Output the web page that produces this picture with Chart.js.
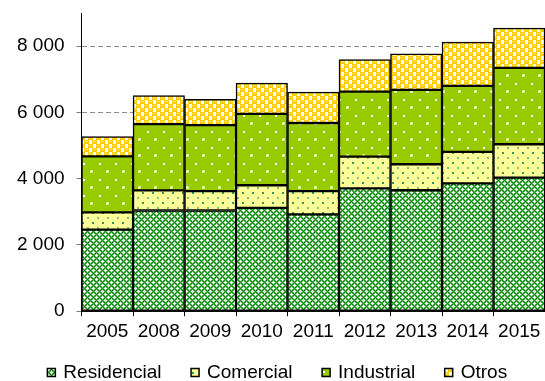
<!DOCTYPE html>
<html>
<head>
<meta charset="utf-8">
<script src="https://cdn.jsdelivr.net/npm/chart.js@4/dist/chart.umd.min.js"></script>
<style>
  html, body { margin: 0; padding: 0; background: #fff; }
  #wrap { width: 545px; height: 381px; }
</style>
</head>
<body>
<div id="wrap"><canvas id="myChart"></canvas></div>
<script>
const anni = ['2005', '2008', '2009', '2010', '2011', '2012', '2013', '2014', '2015'];
const residencial = [2460, 3040, 3040, 3120, 2920, 3705, 3650, 3860, 4030];
const comercial = [525, 605, 585, 680, 705, 960, 785, 950, 1010];
const industrial = [1690, 2000, 1990, 2155, 2055, 1960, 2245, 1990, 2305];
const otros = [595, 860, 780, 930, 930, 970, 1090, 1320, 1200];
const valoriTick = [0, 2000, 4000, 6000, 8000];

function creaPattern(w, h, disegna) {
    const c = document.createElement('canvas');
    c.width = w;
    c.height = h;
    const g = c.getContext('2d');
    disegna(g);
    return document.getElementById('myChart').getContext('2d').createPattern(c, 'repeat');
}

// verde a rete
const patResidencial = creaPattern(6, 6, function(g) {
    g.fillStyle = '#ffffff';
    g.fillRect(0, 0, 6, 6);
    for (let x = 0; x < 6; x++) {
        for (let y = 0; y < 6; y++) {
            if ((x + y) % 6 === 0 || (x - y + 6) % 6 === 0) {
                g.fillStyle = '#138a13';
                g.fillRect(x, y, 1, 1);
            } else if ((x + y) % 6 === 3 && (x - y + 6) % 6 === 3) {
                g.fillStyle = '#ffffff';
                g.fillRect(x, y, 1, 1);
            } else if ((x + y) % 2 === 1) {
                g.fillStyle = '#5cb85c';
                g.fillRect(x, y, 1, 1);
            }
        }
    }
});

// giallo chiaro con puntini verdi
const patComercial = creaPattern(10, 10, function(g) {
    g.fillStyle = '#ffff99';
    g.fillRect(0, 0, 10, 10);
    g.fillStyle = '#2f9a5a';
    g.fillRect(2, 2, 2, 2);
    g.fillStyle = '#7fbf7f';
    g.fillRect(7, 7, 2, 2);
});

// verde con puntini bianchi
const patIndustrial = creaPattern(16, 16, function(g) {
    g.fillStyle = '#99cc00';
    g.fillRect(0, 0, 16, 16);
    g.fillStyle = '#ffffff';
    g.fillRect(3, 3, 2, 2);
    g.fillStyle = '#d6ec99';
    g.fillRect(10, 10, 3, 3);
    g.fillStyle = '#ffffff';
    g.fillRect(11, 11, 1, 1);
});

// arancio a blocchi sfalsati
const patOtros = creaPattern(8, 8, function(g) {
    g.fillStyle = '#ffffff';
    g.fillRect(0, 0, 8, 8);
    g.fillStyle = '#ffcc00';
    g.fillRect(0, 0, 5, 4);
    g.fillRect(4, 4, 4, 4);
    g.fillRect(0, 4, 1, 4);
    g.fillStyle = '#ffe680';
    g.fillRect(1, 1, 3, 1);
    g.fillRect(5, 5, 3, 1);
});

function formatta(v) {
    return String(v).replace(/\B(?=(\d{3})+(?!\d))/g, ' ');
}

// legenda piu bassa e compatta
const posizioneLegenda = {
    id: 'posizioneLegenda',
    beforeLayout(chart) {
        const leg = chart.legend;
        if (leg && !leg._modificata) {
            const fitOrig = leg.fit;
            leg.fit = function() {
                fitOrig.call(this);
                this.height = 32;
            };
            leg._modificata = true;
        }
    },
    afterLayout(chart) {
        chart.legend.top = 332;
        chart.legend.left += 3;
        chart.legend.right += 3;
    }
};

const ctx = document.getElementById('myChart');

new Chart(ctx, {
    type: 'bar',
    data: {
        labels: anni,
        datasets: [
            { label: 'Residencial', data: residencial, backgroundColor: patResidencial },
            { label: 'Comercial', data: comercial, backgroundColor: patComercial },
            { label: 'Industrial', data: industrial, backgroundColor: patIndustrial },
            { label: 'Otros', data: otros, backgroundColor: patOtros }
        ]
    },
    plugins: [posizioneLegenda],
    options: {
        responsive: true,
        maintainAspectRatio: false,
        animation: false,
        layout: { padding: { left: 5, top: 13, right: 0, bottom: 2 } },
        datasets: {
            bar: {
                borderColor: '#000000',
                borderWidth: 1.5,
                borderSkipped: false,
                barPercentage: 1,
                categoryPercentage: 1
            }
        },
        plugins: {
            tooltip: { enabled: false },
            legend: {
                position: 'bottom',
                labels: {
                    color: '#000',
                    usePointStyle: true,
                    pointStyle: 'rect',
                    boxWidth: 5,
                    boxHeight: 8,
                    padding: 31,
                    font: { family: 'Liberation Sans, Arial', size: 19 }
                }
            }
        },
        scales: {
            x: {
                stacked: true,
                grid: {
                    display: true,
                    drawOnChartArea: false,
                    drawTicks: true,
                    tickLength: 5,
                    color: '#000'
                },
                border: { display: true, color: '#000', width: 1 },
                ticks: {
                    color: '#000',
                    padding: 4,
                    maxRotation: 0,
                    font: { family: 'Liberation Sans, Arial', size: 19 }
                }
            },
            y: {
                stacked: true,
                min: 0,
                max: 9000,
                afterBuildTicks: function(scale) {
                    scale.ticks = valoriTick.map(v => ({ value: v }));
                },
                afterFit: function(scale) {
                    scale.paddingTop = 0;
                },
                grid: {
                    color: function(c) {
                        return c.tick && c.tick.value === 0 ? 'rgba(0,0,0,0)' : '#8c8c8c';
                    },
                    tickColor: '#777',
                    tickLength: 5
                },
                border: { display: true, color: '#000', width: 1, dash: [5, 3] },
                ticks: {
                    color: '#000',
                    padding: 12,
                    stepSize: 2000,
                    font: { family: 'Liberation Sans, Arial', size: 19 },
                    callback: function(v) { return formatta(v); }
                }
            }
        }
    }
});
</script>
</body>
</html>
